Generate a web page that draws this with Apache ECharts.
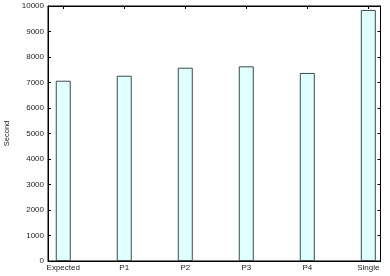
<!DOCTYPE html>
<html><head><meta charset="utf-8">
<script src="https://cdn.jsdelivr.net/npm/echarts@6/dist/echarts.min.js"></script>
<style>html,body{margin:0;padding:0;background:#fff}#c{width:390px;height:276px}</style>
</head><body><div id="c"></div>
<script>
const categories = ['Expected','P1','P2','P3','P4','Single'];
const seconds = [7070, 7265, 7580, 7635, 7375, 9845];
const yTicks = [0,1000,2000,3000,4000,5000,6000,7000,8000,9000,10000];

const idx = categories.map((_, i) => i);
const font = 'Liberation Sans, Arial, sans-serif';
const chart = echarts.init(document.getElementById('c'));
chart.setOption({
  animation: false,
  grid: {left: 48, top: 6, right: 9.5, bottom: 15, outerBoundsMode: 'none', containLabel: false, show: true, borderColor: '#000', borderWidth: 1, backgroundColor: 'transparent'},
  xAxis: [{
    type: 'value', min: -0.25, max: 5.2,
    splitLine: {show: false},
    axisLine: {show: true, onZero: false, lineStyle: {color: '#000'}},
    axisTick: {show: true, inside: true, length: 3, customValues: idx, lineStyle: {color: '#000'}},
    axisLabel: {customValues: idx, formatter: v => categories[Math.round(v)] || '', fontSize: 8, fontFamily: font, color: '#222', margin: 3}
  }, {
    type: 'value', position: 'top', min: -0.25, max: 5.2,
    splitLine: {show: false},
    axisLine: {show: true, onZero: false, lineStyle: {color: '#000'}},
    axisTick: {show: true, inside: true, length: 3, customValues: idx, lineStyle: {color: '#000'}},
    axisLabel: {show: false}
  }],
  yAxis: [{
    type: 'value', min: 0, max: 10000, interval: 1000,
    name: 'Second', nameLocation: 'middle', nameGap: 37, nameRotate: 90,
    nameTextStyle: {fontSize: 7.5, fontFamily: font, color: '#222'},
    splitLine: {show: false},
    axisLine: {show: true, onZero: false, lineStyle: {color: '#000'}},
    axisTick: {show: true, inside: true, length: 3, lineStyle: {color: '#000'}},
    axisLabel: {fontSize: 8, fontFamily: font, color: '#222', margin: 4, formatter: v => String(v)}
  }, {
    type: 'value', position: 'right', min: 0, max: 10000, interval: 1000,
    splitLine: {show: false},
    axisLine: {show: true, onZero: false, lineStyle: {color: '#000'}},
    axisTick: {show: true, inside: true, length: 3, lineStyle: {color: '#000'}},
    axisLabel: {show: false}
  }],
  series: [{
    type: 'bar', xAxisIndex: 0, yAxisIndex: 0,
    barWidth: 15,
    data: seconds.map((v, i) => [i, v]),
    itemStyle: {color: '#e0ffff', borderColor: '#3a4a4a', borderWidth: 1}
  }]
});
</script></body></html>
